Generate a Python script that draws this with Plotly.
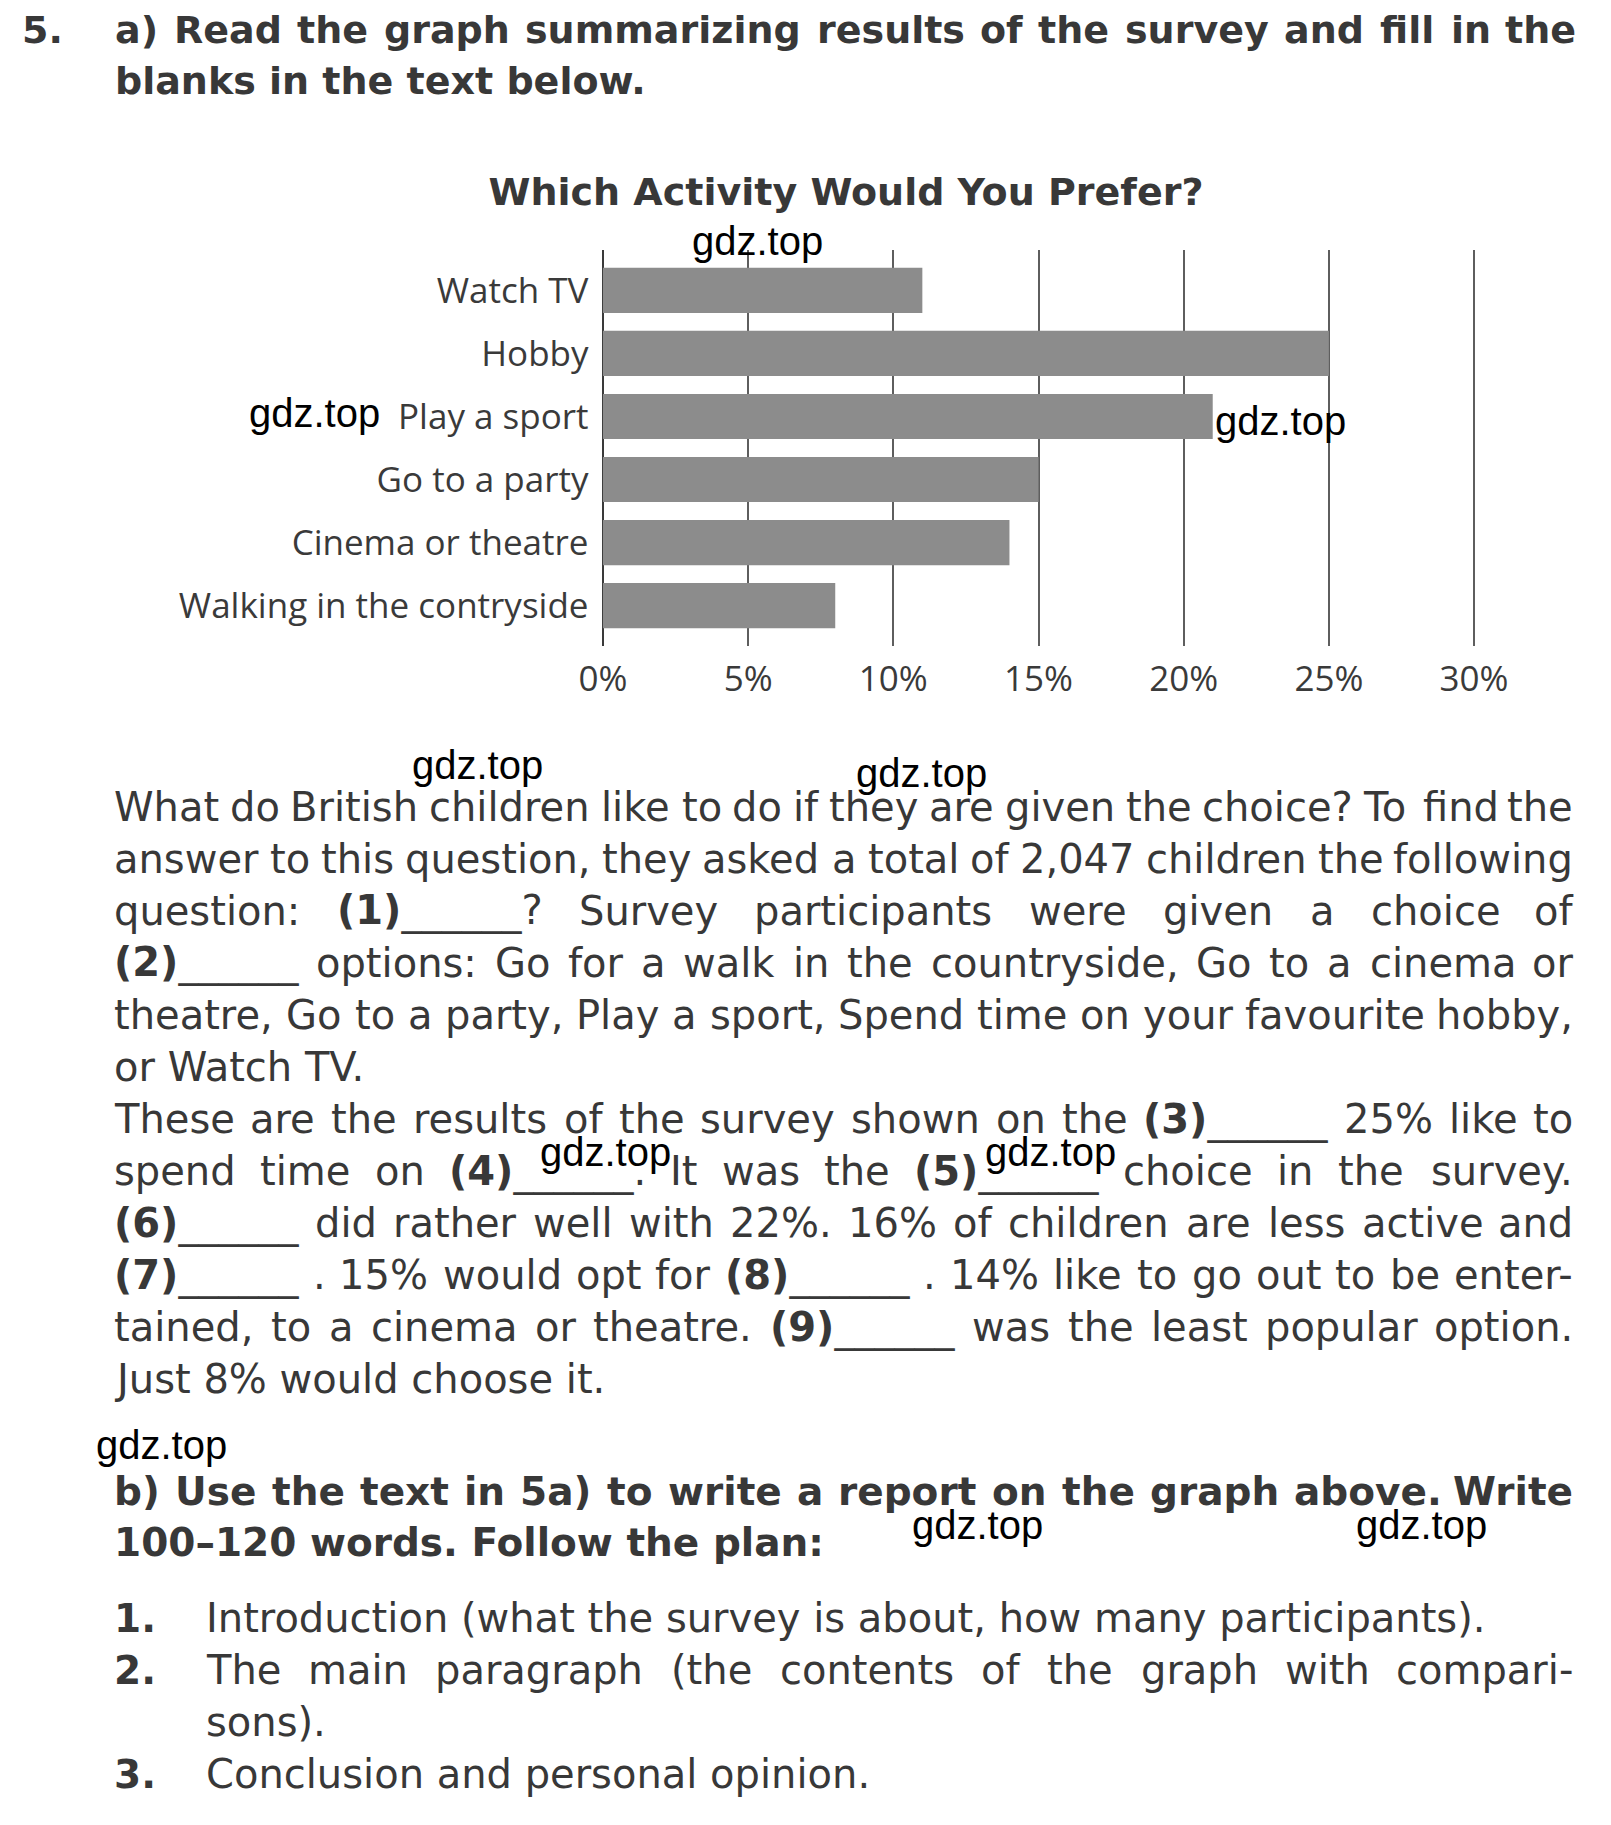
import re
import plotly.graph_objects as go

W, H = 1611, 1825
# the page body adds a small offset; positions below are page pixels
OX, OY = 8, 8

# ---- chart data ----
categories = ["Watch TV", "Hobby", "Play a sport", "Go to a party",
              "Cinema or theatre", "Walking in the contryside"]
shares = [11, 25, 21, 15, 14, 8]
tick_values = [0, 5, 10, 15, 20, 25, 30]
tick_labels = ["0%", "5%", "10%", "15%", "20%", "25%", "30%"]
chart_title = "Which Activity Would You Prefer?"

# ---- page text ----
task_number = "5."
heading_lines = [
    "a) Read the graph summarizing results of the survey and fill in the",
    "blanks in the text below.",
]
body_lines = [
    "What do British children like to do if they are given the choice? To find the",
    "answer to this question, they asked a total of 2,047 children the following",
    "question: <b>(1)</b>______? Survey participants were given a choice of",
    "<b>(2)</b>______ options: Go for a walk in the countryside, Go to a cinema or",
    "theatre, Go to a party, Play a sport, Spend time on your favourite hobby,",
    "or Watch TV.",
    "These are the results of the survey shown on the <b>(3)</b>______ 25% like to",
    "spend time on <b>(4)</b>______. It was the <b>(5)</b>______ choice in the survey.",
    "<b>(6)</b>______ did rather well with 22%. 16% of children are less active and",
    "<b>(7)</b>______ . 15% would opt for <b>(8)</b>______ . 14% like to go out to be enter-",
    "tained, to a cinema or theatre. <b>(9)</b>______ was the least popular option.",
    "Just 8% would choose it.",
]
body_justified = [True, True, True, True, True, False,
                  True, True, True, True, True, False]
part_b_lines = [
    "b) Use the text in 5a) to write a report on the graph above. Write",
    "100–120 words. Follow the plan:",
]
plan_numbers = ["1.", "2.", "", "3."]
plan_lines = [
    "Introduction (what the survey is about, how many participants).",
    "The main paragraph (the contents of the graph with compari-",
    "sons).",
    "Conclusion and personal opinion.",
]
plan_justified = [False, True, False, False]
watermark = "gdz.top"

# approximate DejaVu Sans advance widths (em) used for justification
REG_W = {' ': .318, '%': .950, '(': .391, ')': .391, ',': .318, '-': .361,
         '.': .318, ':': .337, '?': .531, '_': .500, '–': .500,
         'A': .684, 'B': .686, 'C': .698, 'D': .770, 'E': .632, 'F': .575,
         'G': .775, 'H': .752, 'I': .295, 'J': .295, 'K': .656, 'L': .557,
         'M': .863, 'N': .748, 'O': .787, 'P': .603, 'R': .695, 'S': .635,
         'T': .611, 'U': .732, 'V': .684, 'W': .989, 'Y': .611,
         'a': .613, 'b': .635, 'c': .550, 'd': .635, 'e': .615, 'f': .352,
         'g': .635, 'h': .634, 'i': .278, 'j': .278, 'k': .579, 'l': .278,
         'm': .974, 'n': .634, 'o': .612, 'p': .635, 'q': .635, 'r': .411,
         's': .521, 't': .392, 'u': .634, 'v': .592, 'w': .818, 'x': .592,
         'y': .592, 'z': .525}
BOLD_W = {' ': .348, '%': 1.002, '(': .457, ')': .457, ',': .380, '-': .415,
          '.': .380, ':': .400, '?': .580, '_': .500, '–': .500,
          'A': .774, 'B': .762, 'C': .734, 'D': .830, 'F': .683, 'I': .372,
          'P': .733, 'R': .770, 'T': .682, 'U': .812, 'W': 1.030, 'Y': .724,
          'a': .675, 'b': .716, 'c': .593, 'd': .716, 'e': .678, 'f': .435,
          'g': .716, 'h': .712, 'i': .343, 'j': .343, 'k': .662, 'l': .343,
          'm': 1.042, 'n': .712, 'o': .687, 'p': .716, 'q': .716, 'r': .493,
          's': .595, 't': .478, 'u': .712, 'v': .650, 'w': .924, 'x': .645,
          'y': .650, 'z': .576}
for d in "0123456789":
    REG_W[d] = .636
    BOLD_W[d] = .696

TEXT = "#383838"
BODY_FONT = "DejaVu Sans"
CHART_FONT = "Open Sans"


def px(x):
    return (x - OX) / W


def py(y):
    return 1 - (y - OY) / H


def text_width(html, size, bold=False):
    w = 0.0
    for part in re.split(r'(</?b>)', html):
        if part == '<b>':
            bold = True
        elif part == '</b>':
            bold = False
        else:
            table = BOLD_W if bold else REG_W
            w += sum(table.get(ch, .6) for ch in part)
    return w * size


fig = go.Figure()

fig.add_trace(go.Bar(
    x=shares, y=categories, orientation="h",
    marker=dict(color="#8c8c8c", line=dict(width=0)),
    hoverinfo="skip",
))


def put(text, x, y, size, anchor="left", bold=False, color=TEXT,
        family=BODY_FONT):
    if bold:
        text = "<b>" + text + "</b>"
    fig.add_annotation(
        text=text, x=px(x), y=py(y), xref="paper", yref="paper",
        xanchor=anchor, yanchor="middle", showarrow=False, borderpad=0,
        font=dict(family=family, size=size, color=color),
    )


def line(text, y, left, right, size, justify, bold=False):
    words = text.split(" ")
    if not justify or len(words) == 1:
        put(text, left, y, size, bold=bold)
        return
    widths = [text_width(w, size, bold) for w in words]
    gap = (right - left - sum(widths)) / (len(words) - 1)
    x = left
    for i, (w, ww) in enumerate(zip(words, widths)):
        if i == len(words) - 1:
            put(w, right, y, size, anchor="right", bold=bold)
        else:
            put(w, x, y, size, bold=bold)
        x += ww + gap


# heading
put(task_number, 21, 30, 38, bold=True)
line(heading_lines[0], 30, 114, 1577, 38, True, bold=True)
line(heading_lines[1], 81, 114, 1577, 38, False, bold=True)

# body text
for i, (t, j) in enumerate(zip(body_lines, body_justified)):
    line(t, 807 + 52 * i, 113, 1574, 40, j)

# part b
for i, t in enumerate(part_b_lines):
    line(t, 1491 + 51 * i, 113, 1574, 39, i == 0, bold=True)

# plan
for i, (n, t, j) in enumerate(zip(plan_numbers, plan_lines, plan_justified)):
    y = 1618 + 52 * i
    if n:
        put(n, 113, y, 39, bold=True)
    line(t, y, 205, 1574, 40, j)

# watermarks
for wx, wy in [(757, 241), (314, 413), (1280, 421), (477, 765), (921, 773),
               (605, 1152), (1050, 1152), (161, 1445), (977, 1525),
               (1421, 1525)]:
    put(watermark, wx, wy, 40, anchor="center", color="#000000",
        family="Liberation Sans, Arial")

fig.update_layout(
    width=W, height=H,
    margin=dict(l=0, r=0, t=0, b=0, autoexpand=False),
    paper_bgcolor="#ffffff", plot_bgcolor="#ffffff",
    showlegend=False, bargap=0.285,
    title=dict(text="<b>" + chart_title + "</b>", x=px(846), y=py(192),
               xref="paper", yref="paper", xanchor="center", yanchor="middle",
               automargin=False,
               font=dict(family=BODY_FONT, size=38, color=TEXT)),
    xaxis=dict(
        domain=[px(601.5), px(1475.5)], range=[-0.05, 30.05],
        tickvals=tick_values, ticktext=tick_labels,
        showgrid=True, gridcolor="#5e5e5e", gridwidth=1.5,
        zeroline=True, zerolinecolor="#3a3a3a", zerolinewidth=2.2,
        showline=False, ticks="", ticklabelstandoff=9, automargin=False,
        tickfont=dict(family=CHART_FONT, size=35, color="#3a3a3a"),
    ),
    yaxis=dict(
        domain=[py(646), py(250)], range=[5.64, -0.64],
        categoryorder="array", categoryarray=categories,
        showgrid=False, zeroline=False, showline=False,
        ticks="", ticklabelstandoff=12, automargin=False,
        tickfont=dict(family=CHART_FONT, size=35, color="#3a3a3a"),
    ),
)

fig.write_html("out.html")
